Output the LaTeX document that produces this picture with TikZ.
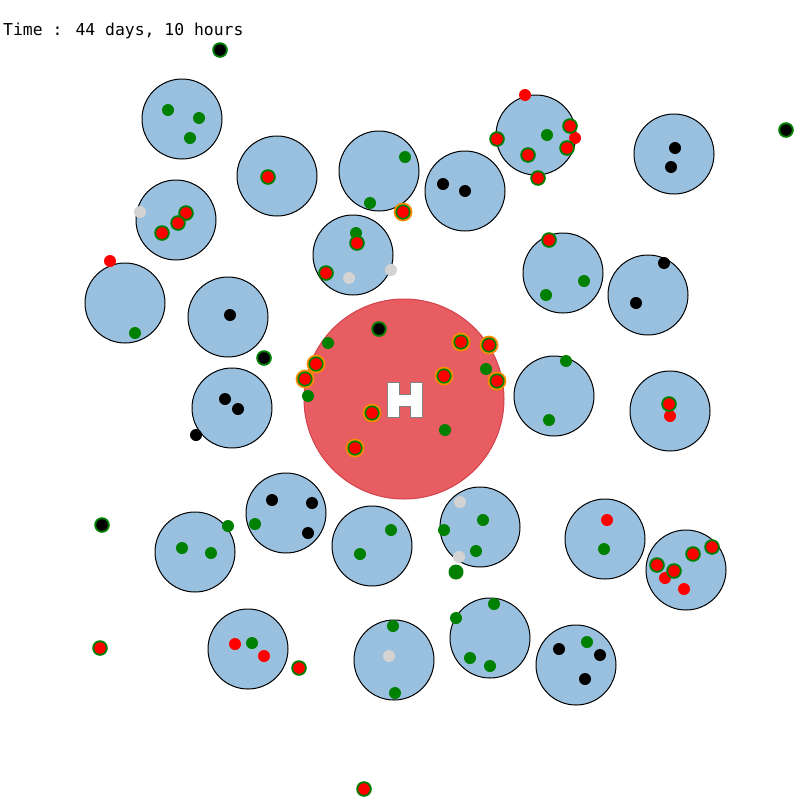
\documentclass[tikz,border=0pt]{standalone}
\usepackage{fontspec}
\newfontfamily\clockfont{DejaVu Sans Mono}
\definecolor{zoneblue}{RGB}{153, 193, 223}
\definecolor{hospred}{RGB}{232, 93, 97}
\definecolor{hospedge}{RGB}{210, 65, 75}
\definecolor{agentgreen}{RGB}{0, 128, 0}
\definecolor{agentred}{RGB}{255, 0, 0}
\definecolor{agentorange}{RGB}{255, 140, 0}
\definecolor{agentgrey}{RGB}{211, 211, 211}

\begin{document}
\begin{tikzpicture}[x=1pt, y=-1pt,
    zone/.style={draw=black, fill=zoneblue, line width=1pt}]
  \useasboundingbox (0,0) rectangle (810,798);
  \fill[white] (0,0) rectangle (810,798);
  % zones
  \foreach \x/\y in {182/119, 277/176, 379/171, 176/220, 353/255, 465/191,
                     536/135, 674/154, 563/273, 648/295, 125/303, 228/317,
                     232/408, 554/396, 670/411, 195/552, 286/513, 372/546,
                     248/649, 394/660, 480/527, 605/539, 686/570, 490/638,
                     576/665}{
    \draw[zone] (\x, \y) circle[radius=40];
  }
  % hospital
  \draw[fill=hospred, draw=hospedge, line width=1pt] (404, 399) circle[radius=100];
  \filldraw[fill=white, draw=gray, line width=1pt]
    (387,382) -- (399,382) -- (399,394) -- (410,394) -- (410,382) -- (422,382)
    -- (422,417) -- (410,417) -- (410,406) -- (399,406) -- (399,417)
    -- (387,417) -- cycle;
  % plain agents
  \foreach \x/\y/\c in {168/110/agentgreen, 199/118/agentgreen, 190/138/agentgreen,
      405/157/agentgreen, 370/203/agentgreen, 356/233/agentgreen, 584/281/agentgreen,
      546/295/agentgreen, 547/135/agentgreen, 135/333/agentgreen, 566/361/agentgreen,
      549/420/agentgreen, 182/548/agentgreen, 211/553/agentgreen, 228/526/agentgreen,
      255/524/agentgreen, 391/530/agentgreen, 360/554/agentgreen, 252/643/agentgreen,
      393/626/agentgreen, 395/693/agentgreen, 483/520/agentgreen, 444/530/agentgreen,
      476/551/agentgreen, 604/549/agentgreen, 494/604/agentgreen, 456/618/agentgreen,
      470/658/agentgreen, 490/666/agentgreen, 587/642/agentgreen, 328/343/agentgreen,
      486/369/agentgreen, 308/396/agentgreen, 445/430/agentgreen,
      443/184/black, 465/191/black, 675/148/black, 671/167/black, 664/263/black,
      636/303/black, 230/315/black, 225/399/black, 238/409/black, 196/435/black,
      272/500/black, 312/503/black, 308/533/black, 559/649/black, 600/655/black,
      585/679/black,
      525/95/agentred, 575/138/agentred, 110/261/agentred, 670/416/agentred,
      235/644/agentred, 264/656/agentred, 607/520/agentred, 665/578/agentred,
      684/589/agentred,
      140/212/agentgrey, 349/278/agentgrey, 391/270/agentgrey, 389/656/agentgrey,
      460/502/agentgrey, 459/557/agentgrey}{
    \fill[\c] (\x, \y) circle[radius=6];
  }
  \fill[agentgreen] (456, 572) circle[radius=7.5];
  % ringed agents
  \foreach \x/\y/\c in {268/177/agentred, 186/213/agentred, 178/223/agentred,
      162/233/agentred, 357/243/agentred, 326/273/agentred, 570/126/agentred,
      567/148/agentred, 497/139/agentred, 528/155/agentred, 538/178/agentred,
      549/240/agentred, 669/404/agentred, 299/668/agentred, 100/648/agentred,
      364/789/agentred, 657/565/agentred, 674/571/agentred, 693/554/agentred,
      712/547/agentred,
      220/50/black, 786/130/black, 264/358/black, 102/525/black, 379/329/black}{
    \fill[agentgreen] (\x, \y) circle[radius=7.8];
    \fill[\c] (\x, \y) circle[radius=5.8];
  }
  % treated agents
  \foreach \x/\y in {403/212, 461/342, 489/345, 316/364, 305/379, 444/376,
                     497/381, 372/413, 355/448}{
    \fill[agentorange] (\x, \y) circle[radius=9.4];
    \fill[agentgreen] (\x, \y) circle[radius=7.6];
    \fill[agentred] (\x, \y) circle[radius=5.8];
  }
  \node[anchor=base west, inner sep=0pt,
        font=\clockfont\fontsize{16.4}{18}\selectfont] (clock) at (3, 35)
        {Time : 44 days, 10 hours};
\end{tikzpicture}
\end{document}
